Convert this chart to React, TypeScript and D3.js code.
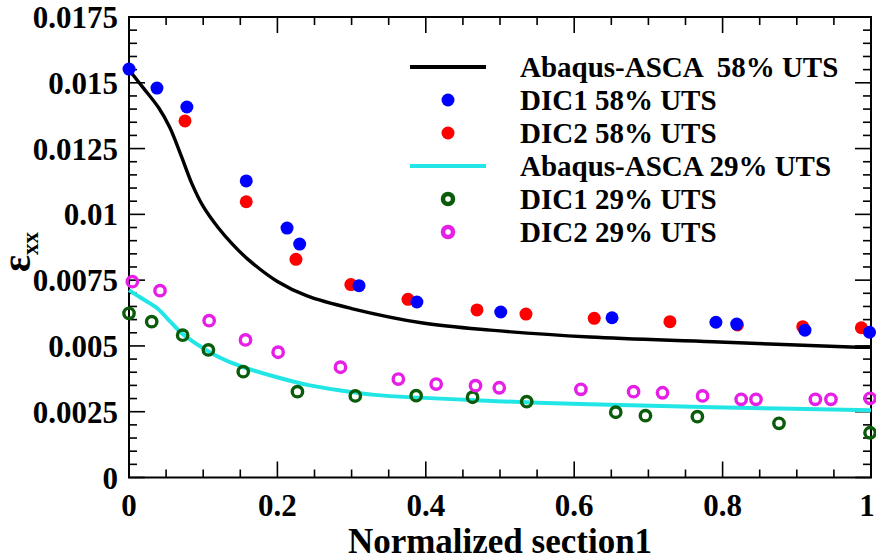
import React from "react";
import * as d3 from "d3";

// ---- data ----
const abaqus58X = [0, 0.02, 0.04, 0.055, 0.07, 0.085, 0.1, 0.12, 0.14, 0.16, 0.2, 0.24, 0.3, 0.396, 0.487, 0.621, 0.787, 0.981, 1.0];
const abaqus58Y = [0.01549, 0.01478, 0.01405, 0.0133, 0.01225, 0.01115, 0.0103, 0.0095, 0.00885, 0.0083, 0.00745, 0.0069, 0.00642, 0.00587, 0.0056, 0.00534, 0.00516, 0.00495, 0.00495];

const abaqus29X = [0, 0.017, 0.0373, 0.053, 0.071, 0.0934, 0.12, 0.152, 0.197, 0.242, 0.287, 0.331, 0.487, 0.621, 0.787, 1.0];
const abaqus29Y = [0.00712, 0.00681, 0.00645, 0.006, 0.00548, 0.00503, 0.00459, 0.00421, 0.00383, 0.00351, 0.0033, 0.00314, 0.00291, 0.00278, 0.00267, 0.00256];

const dic1_58X = [0, 0.0377, 0.078, 0.158, 0.213, 0.23, 0.31, 0.388, 0.501, 0.651, 0.791, 0.819, 0.911, 0.998];
const dic1_58Y = [0.01552, 0.0148, 0.01408, 0.01127, 0.00948, 0.00887, 0.00729, 0.00667, 0.00629, 0.00607, 0.0059, 0.00583, 0.0056, 0.00552];

const dic2_58X = [0.0755, 0.158, 0.225, 0.299, 0.376, 0.469, 0.535, 0.627, 0.729, 0.82, 0.908, 0.987];
const dic2_58Y = [0.01355, 0.01048, 0.00829, 0.00733, 0.00677, 0.00637, 0.00621, 0.00605, 0.00592, 0.0058, 0.00573, 0.00569];

const dic1_29X = [0, 0.0306, 0.0723, 0.107, 0.154, 0.227, 0.305, 0.387, 0.463, 0.536, 0.656, 0.696, 0.766, 0.876, 0.9987];
const dic1_29Y = [0.00624, 0.00592, 0.00541, 0.00485, 0.00402, 0.00326, 0.0031, 0.00311, 0.00305, 0.00288, 0.00248, 0.00235, 0.00231, 0.00206, 0.0017];

const dic2_29X = [0.0045, 0.0418, 0.108, 0.157, 0.201, 0.285, 0.363, 0.414, 0.467, 0.499, 0.609, 0.68, 0.719, 0.773, 0.825, 0.845, 0.925, 0.946, 0.9987];
const dic2_29Y = [0.00744, 0.0071, 0.00596, 0.00523, 0.00476, 0.00419, 0.00374, 0.00355, 0.00349, 0.00341, 0.00335, 0.00326, 0.00322, 0.0031, 0.00297, 0.00297, 0.00297, 0.00297, 0.00301];

const xTickValues = [0, 0.2, 0.4, 0.6, 0.8, 1];
const xTickLabels = ["0", "0.2", "0.4", "0.6", "0.8", "1"];
const yTickValues = [0, 0.0025, 0.005, 0.0075, 0.01, 0.0125, 0.015, 0.0175];
const yTickLabels = ["0", "0.0025", "0.005", "0.0075", "0.01", "0.0125", "0.015", "0.0175"];

const legendLabels = [
  "Abaqus-ASCA  58% UTS",
  "DIC1 58% UTS",
  "DIC2 58% UTS",
  "Abaqus-ASCA 29% UTS",
  "DIC1 29% UTS",
  "DIC2 29% UTS",
];

const FONT = "'Liberation Serif', 'Times New Roman', serif";

export default function App() {
  const W = 876, H = 558;
  const left = 129, right = 871, top = 17, bottom = 477.5;
  const x = d3.scaleLinear().domain([0, 1]).range([left, right]);
  const y = d3.scaleLinear().domain([0, 0.0175]).range([bottom, top]);

  const line = d3
    .line<[number, number]>()
    .x((d) => x(d[0]))
    .y((d) => y(d[1]))
    .curve(d3.curveCatmullRom.alpha(0.5));

  const zip = (a: number[], b: number[]) => a.map((v, i) => [v, b[i]] as [number, number]);

  const xMinor = d3.range(0, 1.0001, 0.05);
  const yMinor = d3.range(0, 0.0175001, 0.0005);
  const isMajorX = (v: number) => xTickValues.some((t) => Math.abs(t - v) < 1e-6);
  const isMajorY = (v: number) => yTickValues.some((t) => Math.abs(t - v) < 1e-7);

  const majLen = 16, minLen = 8;
  const legendRowY = [67, 100, 133, 166, 199, 232];

  return (
    <svg width={W} height={H} style={{ position: "absolute", left: 0, top: 0, background: "#fff" }} fontFamily={FONT}>
      <rect x={0} y={0} width={W} height={H} fill="#fff" />
      {/* ticks */}
      <g stroke="#000" strokeWidth={1.6}>
        {xMinor.map((v, i) => {
          const len = isMajorX(v) ? majLen : minLen;
          return (
            <g key={"xt" + i}>
              <line x1={x(v)} x2={x(v)} y1={bottom} y2={bottom - len} />
              <line x1={x(v)} x2={x(v)} y1={top} y2={top + len} />
            </g>
          );
        })}
        {yMinor.map((v, i) => {
          const len = isMajorY(v) ? majLen : minLen;
          return (
            <g key={"yt" + i}>
              <line x1={left} x2={left + len} y1={y(v)} y2={y(v)} />
              <line x1={right} x2={right - len} y1={y(v)} y2={y(v)} />
            </g>
          );
        })}
      </g>
      <rect x={left} y={top} width={right - left} height={bottom - top} fill="none" stroke="#000" strokeWidth={2} />

      {/* tick labels */}
      <g fontWeight="bold" fontSize={31} fill="#000">
        {xTickValues.map((v, i) => (
          <text key={"xl" + i} x={Math.min(x(v), 867)} y={516} textAnchor="middle">
            {xTickLabels[i]}
          </text>
        ))}
        {yTickValues.map((v, i) => (
          <text key={"yl" + i} x={118} y={y(v) + 11} textAnchor="end">
            {yTickLabels[i]}
          </text>
        ))}
      </g>

      {/* axis titles */}
      <text x={(left + right) / 2} y={553} textAnchor="middle" fontWeight="bold" fontSize={35}>
        Normalized section1
      </text>
      <g transform="translate(30,272) rotate(-90)">
        <text x={0} y={0} fontWeight="bold" fontSize={40}>
          ε
          <tspan fontSize={23} dy={8}>xx</tspan>
        </text>
      </g>

      {/* curves */}
      <path d={line(zip(abaqus58X, abaqus58Y)) || ""} fill="none" stroke="#000" strokeWidth={3.4} />
      <path d={line(zip(abaqus29X, abaqus29Y)) || ""} fill="none" stroke="#22e6e6" strokeWidth={4} />

      {/* markers */}
      {zip(dic2_58X, dic2_58Y).map((d, i) => (
        <circle key={"r" + i} cx={x(d[0])} cy={y(d[1])} r={6.5} fill="#ff0000" />
      ))}
      {zip(dic1_58X, dic1_58Y).map((d, i) => (
        <circle key={"b" + i} cx={x(d[0])} cy={y(d[1])} r={6.5} fill="#0000ff" />
      ))}
      {zip(dic1_29X, dic1_29Y).map((d, i) => (
        <circle key={"g" + i} cx={x(d[0])} cy={y(d[1])} r={5.2} fill="none" stroke="#0a5c0a" strokeWidth={3.4} />
      ))}
      {zip(dic2_29X, dic2_29Y).map((d, i) => (
        <circle key={"m" + i} cx={x(d[0])} cy={y(d[1])} r={5.2} fill="none" stroke="#e61ee6" strokeWidth={3.4} />
      ))}

      {/* legend */}
      <g>
        <line x1={410} x2={486} y1={legendRowY[0]} y2={legendRowY[0]} stroke="#000" strokeWidth={4} />
        <circle cx={448} cy={legendRowY[1]} r={6.5} fill="#0000ff" />
        <circle cx={448} cy={legendRowY[2]} r={6.5} fill="#ff0000" />
        <line x1={410} x2={486} y1={legendRowY[3]} y2={legendRowY[3]} stroke="#22e6e6" strokeWidth={4} />
        <circle cx={448} cy={legendRowY[4]} r={5} fill="none" stroke="#0a5c0a" strokeWidth={4.5} />
        <circle cx={448} cy={legendRowY[5]} r={5} fill="none" stroke="#e61ee6" strokeWidth={4.5} />
        <g fontWeight="bold" fontSize={29} fill="#000">
          {legendLabels.map((t, i) => (
            <text key={"lg" + i} x={520} y={legendRowY[i] + 10} style={{ whiteSpace: "pre" }}>
              {t}
            </text>
          ))}
        </g>
      </g>
    </svg>
  );
}
